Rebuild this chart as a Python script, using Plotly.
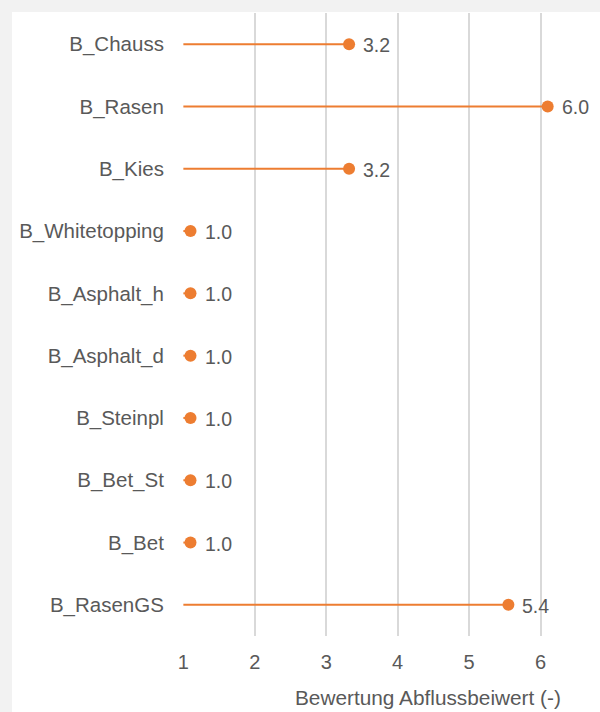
import plotly.graph_objects as go

categories = ["B_Chauss", "B_Rasen", "B_Kies", "B_Whitetopping", "B_Asphalt_h",
              "B_Asphalt_d", "B_Steinpl", "B_Bet_St", "B_Bet", "B_RasenGS"]
values = [3.32, 6.1, 3.32, 1.1, 1.1, 1.1, 1.1, 1.1, 1.1, 5.55]
labels = ["3.2", "6.0", "3.2", "1.0", "1.0", "1.0", "1.0", "1.0", "1.0", "5.4"]
base = 1
x_ticks = [1, 2, 3, 4, 5, 6]
x_title = "Bewertung Abflussbeiwert (-)"

orange = "#ED7D31"
grey_txt = "#595959"
FONT = "Liberation Sans, Arial, sans-serif"

stem_x, stem_y = [], []
for c, v in zip(categories, values):
    stem_x += [base, v, None]
    stem_y += [c, c, None]

fig = go.Figure()
fig.add_trace(go.Scatter(x=stem_x, y=stem_y, mode="lines",
                         line=dict(color=orange, width=2), hoverinfo="skip",
                         showlegend=False))
fig.add_trace(go.Scatter(x=values, y=categories, mode="markers",
                         marker=dict(color=orange, size=12),
                         cliponaxis=False, showlegend=False))

L, R, T, B = 183, 20, 13, 76
W, H = 600, 712
pw = W - L - R
ph = H - T - B
unit = 71.5
xmax = 1 + pw / unit

annotations = [dict(text=t, x=v, y=c, xref="x", yref="y", xanchor="left",
                    yanchor="middle", xshift=12, yshift=-1, showarrow=False,
                    font=dict(family=FONT, size=19.5, color=grey_txt))
               for c, v, t in zip(categories, values, labels)]
annotations.append(dict(text=x_title, xref="paper", yref="paper",
                        x=(563 - L) / pw, y=-(697 - (H - B)) / ph,
                        xanchor="right", yanchor="middle", showarrow=False,
                        font=dict(family=FONT, size=20.8, color=grey_txt)))

fig.update_layout(
    width=W, height=H,
    margin=dict(l=L, r=R, t=T, b=B, autoexpand=False),
    paper_bgcolor="#f2f2f2",
    plot_bgcolor="rgba(0,0,0,0)",
    font=dict(family=FONT, size=20, color=grey_txt),
    xaxis=dict(range=[0.995, xmax], tickvals=x_ticks, showgrid=True,
               gridcolor="#d9d9d9", gridwidth=1.5, zeroline=False, showline=False,
               ticks="outside", ticklen=8, tickcolor="rgba(0,0,0,0)",
               tickfont=dict(size=20, color=grey_txt)),
    yaxis=dict(categoryorder="array", categoryarray=categories,
               range=[len(categories) - 0.5, -0.5], showgrid=False,
               zeroline=False, showline=False,
               ticks="outside", ticklen=14, tickcolor="rgba(0,0,0,0)",
               tickfont=dict(size=20.5, color=grey_txt)),
    shapes=[dict(type="rect", xref="paper", yref="paper", layer="below",
                 x0=(12 - L) / pw, x1=(W - L) / pw + 0.01,
                 y0=-(B + 5) / ph, y1=1 + (T - 12) / ph,
                 fillcolor="white", line=dict(width=0))],
    annotations=annotations,
)

fig.write_html("out.html", config={"displayModeBar": False},
               post_script="document.body.style.margin='0';"
                           "document.body.style.background='#f2f2f2';")
